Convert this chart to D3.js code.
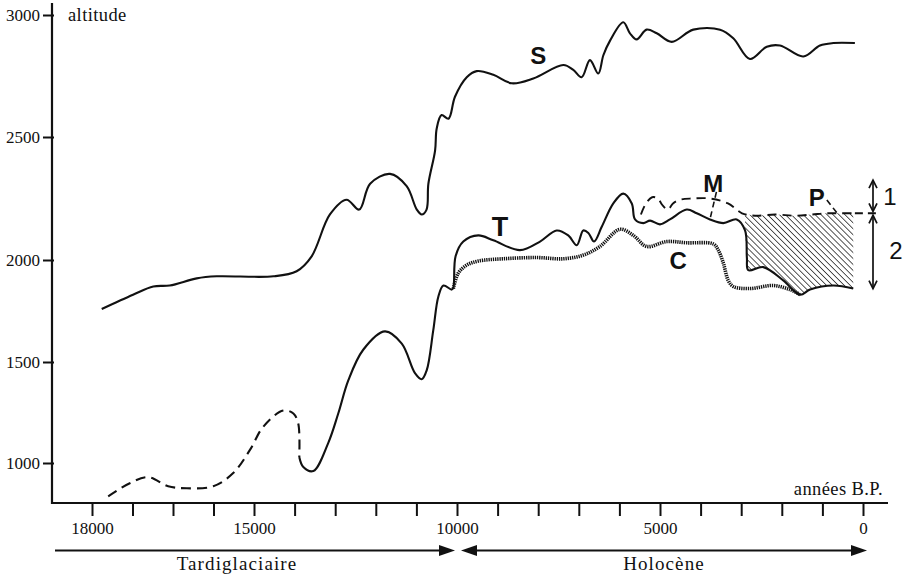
<!DOCTYPE html>
<html><head><meta charset="utf-8">
<script src="https://cdn.jsdelivr.net/npm/d3@7"></script>
<style>body{margin:0;background:#fff} svg{display:block}</style>
</head><body>
<svg id="chart" width="909" height="576"></svg>
<script>
// ---------- data (years B.P., altitude m) ----------
const seriesS = [[17820,1760],[17240,1830],[16865,1870],[16560,1875],[16060,1910],[15690,1920],[14520,1920],[13950,1945],[13580,2015],[13130,2185],[12720,2245],[12410,2205],[12140,2310],[11650,2350],[11240,2300],[10990,2205],[10870,2185],[10750,2205],[10705,2310],[10540,2445],[10500,2535],[10380,2590],[10210,2575],[10050,2665],[9760,2745],[9515,2770],[9105,2755],[8650,2720],[8120,2740],[7380,2795],[7135,2775],[6930,2745],[6725,2815],[6520,2760],[6395,2835],[6230,2895],[5905,2970],[5740,2925],[5575,2900],[5330,2940],[5080,2925],[4710,2890],[4180,2940],[3520,2940],[3195,2905],[2785,2820],[2370,2870],[2045,2875],[1470,2830],[1060,2875],[730,2885],[200,2885]];
const seriesTglacial = [[17700,835],[17300,900],[16960,930],[16590,885],[16245,875],[15755,885],[15385,950],[15075,1065],[14770,1180],[14280,1260],[14030,1245],[13910,1195],[13885,1030]];
const seriesT = [[13885,1030],[13785,980],[13540,960],[13170,1100],[12925,1245],[12675,1410],[12310,1560],[11775,1650],[11360,1590],[11035,1445],[10870,1415],[10745,1460],[10585,1655],[10460,1820],[10335,1875],[10130,1855],[10090,1865],[10035,2015],[9845,2075],[9475,2100],[9105,2080],[8450,2040],[7955,2075],[7545,2120],[7260,2100],[7050,2060],[6890,2120],[6765,2110],[6625,2075],[6435,2135],[6150,2230],[5905,2270],[5695,2230],[5615,2165],[5410,2150],[5245,2160],[5000,2145],[4755,2165],[4340,2205],[4095,2190],[3770,2165],[3440,2150],[3110,2165],[2905,2120],[2860,2010],[2825,1950],[2455,1965],[1965,1900],[1550,1830],[1305,1855],[730,1875],[240,1860]];
const seriesC = [[10090,1860],[9970,1935],[9760,1975],[9475,1995],[8860,2005],[8035,2010],[7380,2005],[6890,2020],[6480,2055],[5985,2125],[5655,2100],[5330,2055],[4835,2075],[4340,2070],[3685,2065],[3565,2040],[3440,1985],[3320,1900],[3195,1870],[2785,1860],[2210,1875],[1800,1855],[1550,1830]];
const seriesM = [[5470,2185],[5345,2230],[5195,2255],[5050,2250],[4950,2225],[4805,2205],[4680,2230],[4505,2245],[4210,2250],[3770,2250],[3325,2230],[2980,2190],[2660,2180],[2165,2185],[1675,2180],[1255,2185],[910,2190],[565,2190],[200,2190]];
const hatchRange = [2905, 240];
const yTicks = [1000, 1500, 2000, 2500, 3000];
const xTicks = [18000,17250,16500,15750,15000,14000,13000,12000,11000,10000,9000,8000,7000,6000,5000,4000,3000,2000,1000,0];
const xTickLabels = {18000:"18000", 15000:"15000", 10000:"10000", 5000:"5000", 0:"0"};
const curveLabels = ["S", "T", "C", "M", "P"];
const curveLabelYears = [8000, 8940, 4550, 3690, 1140];
const curveLabelAlts = [2835, 2135, 2000, 2310, 2255];
const leaderM = [[3610, 2277], [3770, 2165]];
const leaderP = [[890, 2244], [645, 2192]];
const rangeArrow1 = [2325, 2190];
const rangeArrow2 = [2190, 1860];
const rangeLabels = ["1", "2"];
const periodNames = ["Tardiglaciaire", "Holocène"];
const periodBounds = [[18000, 10000], [10000, 0]];

// ---------- scales ----------
const svg = d3.select("#chart");
const x = d3.scaleLinear().domain([18000, 15000, 0]).range([92, 254, 863]);
const y = d3.scaleLinear().domain([1000, 1500, 2000, 2500, 3000]).range([463, 362, 260, 137, 15]);
const axisY = 503, axisX = 52;
const serif = "'Liberation Serif','Times New Roman',serif";
const sans = "'Liberation Sans',Arial,sans-serif";
const ink = "#111";

// hatch pattern
const defs = svg.append("defs");
const pat = defs.append("pattern").attr("id", "hatch").attr("patternUnits", "userSpaceOnUse")
  .attr("width", 4.2).attr("height", 4.2).attr("patternTransform", "rotate(-45)");
pat.append("line").attr("x1", 0).attr("y1", 0).attr("x2", 0).attr("y2", 4.2)
  .attr("stroke", ink).attr("stroke-width", 1.4);

// ---------- axes ----------
const yAxis = d3.axisLeft(y).tickValues(yTicks).tickSize(9).tickPadding(3).tickFormat(d3.format("d"));
const gy = svg.append("g").attr("transform", `translate(${axisX},0)`).call(yAxis);
gy.select(".domain").remove();
gy.selectAll(".tick line").attr("stroke", ink).attr("stroke-width", 2).attr("x2", -9).attr("x1", 2);
gy.selectAll(".tick text").attr("font-family", serif).attr("font-size", 17).attr("fill", ink);
svg.append("line").attr("x1", axisX).attr("x2", axisX).attr("y1", 3).attr("y2", axisY + 1)
  .attr("stroke", ink).attr("stroke-width", 2.2);

const xAxis = d3.axisBottom(x).tickValues(xTicks).tickSize(13).tickPadding(6)
  .tickFormat(d => xTickLabels[d] || "");
const gx = svg.append("g").attr("transform", `translate(0,${axisY})`).call(xAxis);
gx.select(".domain").remove();
gx.selectAll(".tick line").attr("stroke", ink).attr("stroke-width", 2);
gx.selectAll(".tick text").attr("font-family", serif).attr("font-size", 17).attr("fill", ink);
svg.append("line").attr("x1", axisX - 1).attr("x2", x(0) + 25).attr("y1", axisY).attr("y2", axisY)
  .attr("stroke", ink).attr("stroke-width", 2.2);

svg.append("text").attr("x", axisX + 16).attr("y", 21).text("altitude")
  .attr("font-family", serif).attr("font-size", 18.5).attr("letter-spacing", 0.4).attr("fill", ink);
svg.append("text").attr("x", x(0) + 20).attr("y", 495).attr("text-anchor", "end").text("années B.P.")
  .attr("font-family", serif).attr("font-size", 18.5).attr("letter-spacing", 0.4).attr("fill", ink);

// ---------- curves ----------
const line = d3.line().x(d => x(d[0])).y(d => y(d[1])).curve(d3.curveCatmullRom.alpha(0.5));

// hatched area between M (top) and T (bottom)
const [h0, h1] = hatchRange;
const mAt = yr => {
  for (let i = 0; i < seriesM.length - 1; i++) {
    const a = seriesM[i], b = seriesM[i + 1];
    if (yr <= a[0] && yr >= b[0]) return a[1] + (b[1] - a[1]) * (a[0] - yr) / (a[0] - b[0]);
  }
  return seriesM[seriesM.length - 1][1];
};
const hatchTop = [[h0, mAt(h0)], ...seriesM.filter(d => d[0] < h0 && d[0] > h1), [h1, mAt(h1)]];
const hatchBot = seriesT.filter(d => d[0] <= h0 && d[0] >= h1).slice().reverse();
const dArea = line(hatchTop) + line(hatchBot).replace(/^M/, "L") + "Z";
svg.append("path").attr("d", dArea).attr("fill", "url(#hatch)").attr("stroke", "none");

svg.append("path").attr("d", line(seriesS)).attr("fill", "none").attr("stroke", ink).attr("stroke-width", 2.1);
svg.append("path").attr("d", line(seriesTglacial)).attr("fill", "none").attr("stroke", ink)
  .attr("stroke-width", 2.1).attr("stroke-dasharray", "10,6");
svg.append("path").attr("d", line(seriesT)).attr("fill", "none").attr("stroke", ink).attr("stroke-width", 2.1);
svg.append("path").attr("d", line(seriesC)).attr("fill", "none").attr("stroke", ink)
  .attr("stroke-width", 3.6).attr("stroke-dasharray", "1.3,0.9");
svg.append("path").attr("d", line(seriesM)).attr("fill", "none").attr("stroke", ink)
  .attr("stroke-width", 1.9).attr("stroke-dasharray", "9,6");

// leaders
[leaderM, leaderP].forEach(l => {
  svg.append("line").attr("x1", x(l[0][0])).attr("y1", y(l[0][1])).attr("x2", x(l[1][0])).attr("y2", y(l[1][1]))
    .attr("stroke", ink).attr("stroke-width", 1.6).attr("stroke-dasharray", "6,4");
});

// curve labels
curveLabels.forEach((t, i) => {
  svg.append("text").attr("x", x(curveLabelYears[i])).attr("y", y(curveLabelAlts[i]))
    .attr("text-anchor", "middle").attr("dominant-baseline", "central")
    .attr("font-family", sans).attr("font-weight", "bold").attr("font-size", t === "T" ? 27 : 24)
    .attr("fill", ink).text(t);
});

// ---------- right-hand range arrows ----------
const ax = x(0) + 10;
svg.append("line").attr("x1", x(200)).attr("x2", ax + 5).attr("y1", y(rangeArrow1[1])).attr("y2", y(rangeArrow1[1]))
  .attr("stroke", ink).attr("stroke-width", 1.8).attr("stroke-dasharray", "8,5");
function vArrow(a0, a1, gapTop, gapBot) {
  const yt = y(a0) + gapTop, yb = y(a1) - gapBot;
  svg.append("line").attr("x1", ax).attr("x2", ax).attr("y1", yt).attr("y2", yb).attr("stroke", ink).attr("stroke-width", 1.7);
  svg.append("path").attr("d", `M${ax - 4},${yt + 8}L${ax},${yt}L${ax + 4},${yt + 8}`).attr("fill", "none").attr("stroke", ink).attr("stroke-width", 1.7);
  svg.append("path").attr("d", `M${ax - 4},${yb - 8}L${ax},${yb}L${ax + 4},${yb - 8}`).attr("fill", "none").attr("stroke", ink).attr("stroke-width", 1.7);
}
vArrow(rangeArrow1[0], rangeArrow1[1], 0, 2);
vArrow(rangeArrow2[0], rangeArrow2[1], 2, 0);
svg.append("text").attr("x", ax + 17).attr("y", (y(rangeArrow1[0]) + y(rangeArrow1[1])) / 2).text(rangeLabels[0])
  .attr("text-anchor", "middle").attr("dominant-baseline", "central").attr("font-family", sans).attr("font-size", 24).attr("fill", ink);
svg.append("text").attr("x", ax + 23).attr("y", (y(rangeArrow2[0]) + y(rangeArrow2[1])) / 2).text(rangeLabels[1])
  .attr("text-anchor", "middle").attr("dominant-baseline", "central").attr("font-family", sans).attr("font-size", 24).attr("fill", ink);

// ---------- period arrows ----------
const ay = 550.5;
function head(xt, dir) {
  svg.append("path").attr("d", `M${xt},${ay}L${xt - dir * 16},${ay - 5.5}L${xt - dir * 16},${ay + 5.5}Z`).attr("fill", ink);
}
const p0a = x(periodBounds[0][0]) - 37, p0b = x(periodBounds[0][1]) - 2;
const p1a = x(periodBounds[1][0]) + 4, p1b = x(periodBounds[1][1]) + 4;
svg.append("line").attr("x1", p0a).attr("x2", p0b - 8).attr("y1", ay).attr("y2", ay).attr("stroke", ink).attr("stroke-width", 2);
head(p0b, 1);
svg.append("line").attr("x1", p1a + 8).attr("x2", p1b - 8).attr("y1", ay).attr("y2", ay).attr("stroke", ink).attr("stroke-width", 2);
head(p1a, -1); head(p1b, 1);
svg.append("text").attr("x", (p0a + p0b) / 2 - 18).attr("y", 570).attr("text-anchor", "middle").text(periodNames[0])
  .attr("font-family", serif).attr("font-size", 19).attr("letter-spacing", 1.1).attr("fill", ink);
svg.append("text").attr("x", (p1a + p1b) / 2).attr("y", 570).attr("text-anchor", "middle").text(periodNames[1])
  .attr("font-family", serif).attr("font-size", 19).attr("letter-spacing", 1.1).attr("fill", ink);
</script>
</body></html>
